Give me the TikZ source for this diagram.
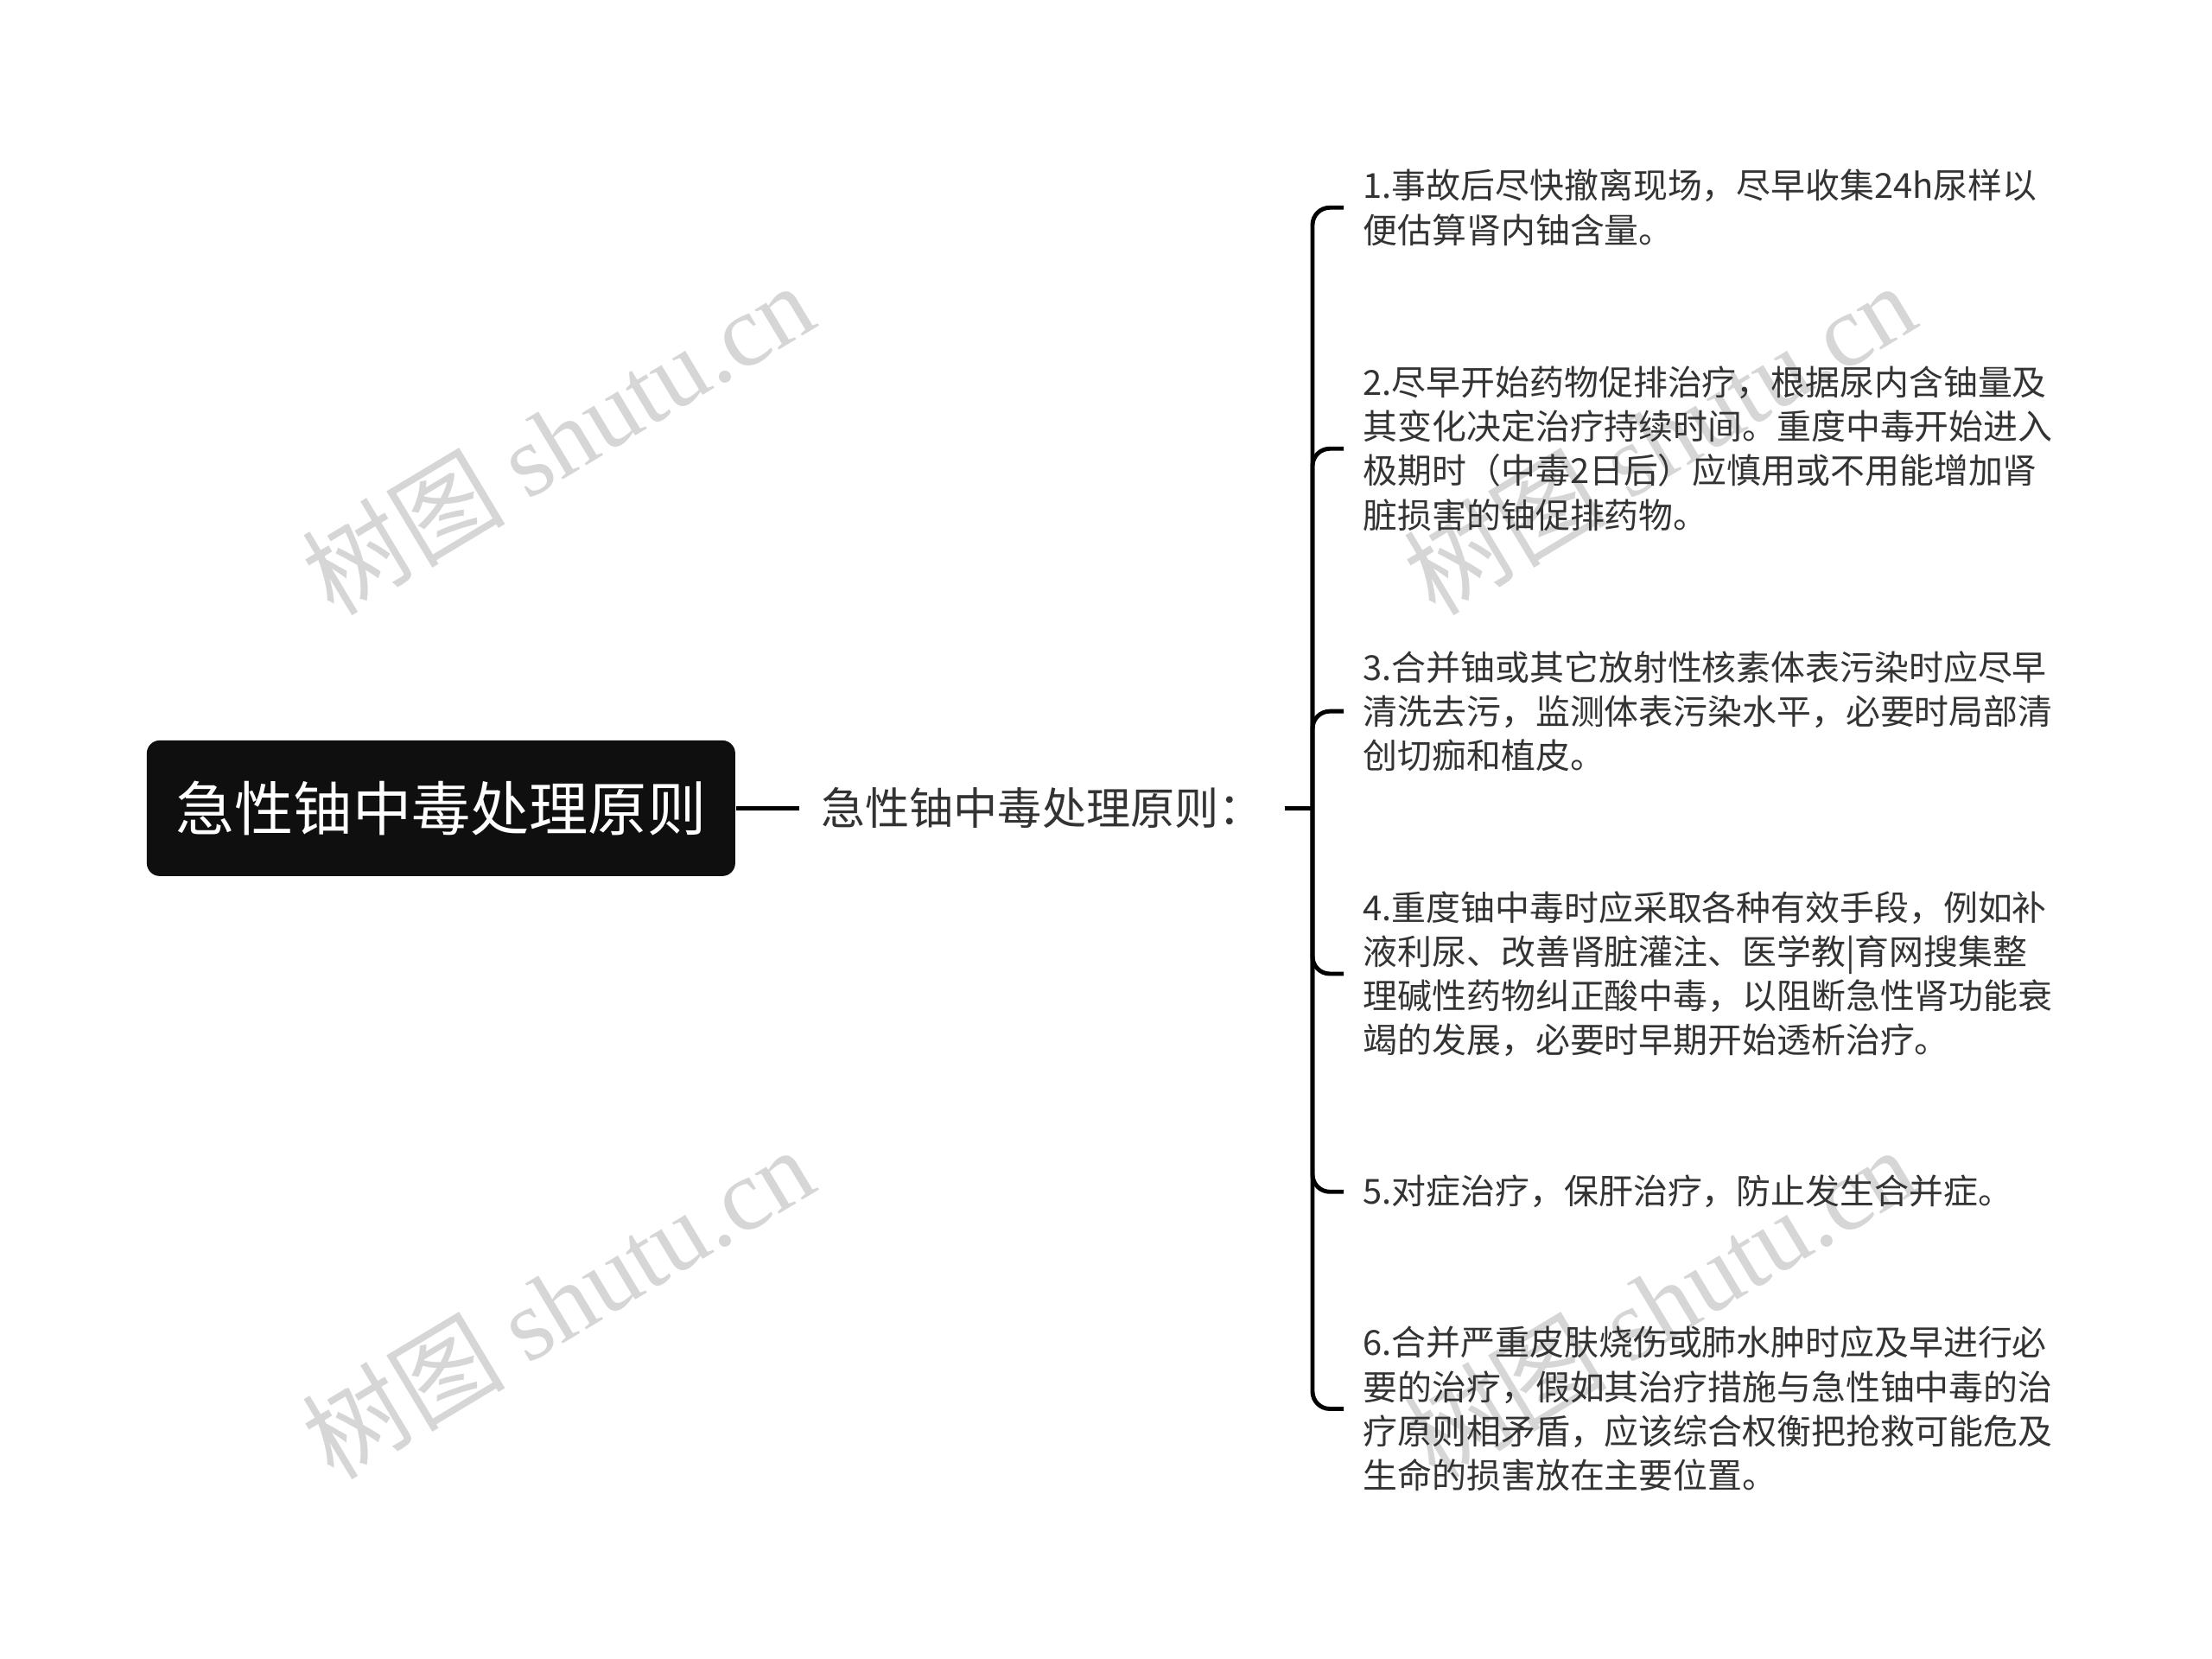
\documentclass[tikz,border=0pt]{standalone}
\usepackage{fontspec}
\setmainfont{Noto Sans CJK SC}
\newfontfamily\wmlatin{Liberation Serif}
\usetikzlibrary{positioning}

\definecolor{txtgray}{HTML}{333333}
\definecolor{wmgray}{HTML}{D6D6D6}
\definecolor{rootfill}{HTML}{0F0F0F}

\begin{document}
\begin{tikzpicture}[%
    root/.style={fill=rootfill, text=white, rounded corners=0.15cm,
        minimum width=6.81cm, minimum height=1.57cm,
        font=\fontsize{19.4pt}{23pt}\selectfont},
    sub/.style={text=txtgray, inner xsep=0.25cm,
        font=\fontsize{14.55pt}{18pt}\selectfont},
    leaf/.style={text=txtgray, anchor=west, align=left, inner xsep=0.22cm,
        font=\fontsize{11.35pt}{14.56pt}\selectfont},
    link/.style={line width=1.4pt, black},
    wmtext/.style={text=wmgray, rotate=31,
        font=\fontsize{33.5pt}{38pt}\selectfont}
    ]

    \fill[white] (0,0) rectangle (25.6,19.2);
    \useasboundingbox (0,0) rectangle (25.6,19.2);

    \node[wmtext] (wm1) at (6.45,14.13) {树图 {\wmlatin shutu.cn}};
    \node[wmtext] (wm2) at (6.45,4.13) {树图 {\wmlatin shutu.cn}};
    \node[wmtext] (wm3) at (19.20,14.13) {树图 {\wmlatin shutu.cn}};
    \node[wmtext] (wm4) at (19.20,4.13) {树图 {\wmlatin shutu.cn}};

    \node[root] (top) at (5.104,9.846) {急性铀中毒处理原则};
    \node[sub] (rule) [right=0.73cm of top] {急性铀中毒处理原则：};
    \coordinate (hub) at (15.19,9.846);

    \node[leaf] (p1) at (15.55,16.797) {1.事故后尽快撤离现场，尽早收集24h尿样以\\
        便估算肾内铀含量。};
    \node[leaf] (p2) at (15.55,14.007) {2.尽早开始药物促排治疗，根据尿内含铀量及\\
        其变化决定治疗持续时间。重度中毒开始进入\\
        极期时（中毒2日后）应慎用或不用能增加肾\\
        脏损害的铀促排药物。};
    \node[leaf] (p3) at (15.55,10.968) {3.合并铀或其它放射性核素体表污染时应尽早\\
        清洗去污，监测体表污染水平，必要时局部清\\
        创切痂和植皮。};
    \node[leaf] (p4) at (15.55,7.93) {4.重度铀中毒时应采取各种有效手段，例如补\\
        液利尿、改善肾脏灌注、医学教|育网搜集整\\
        理碱性药物纠正酸中毒，以阻断急性肾功能衰\\
        竭的发展，必要时早期开始透析治疗。};
    \node[leaf] (p5) at (15.55,5.407) {5.对症治疗，保肝治疗，防止发生合并症。};
    \node[leaf] (p6) at (15.55,2.895) {6.合并严重皮肤烧伤或肺水肿时应及早进行必\\
        要的治疗，假如其治疗措施与急性铀中毒的治\\
        疗原则相矛盾，应该综合权衡把抢救可能危及\\
        生命的损害放在主要位置。};

    \draw[link] (top) -- (rule);
    \draw[link] (rule) -- (hub);
    \foreach \p in {p1,p2,p3,p4,p5,p6}
        \draw[link, rounded corners=0.2cm] (hub) |- (\p.west);

\end{tikzpicture}
\end{document}
